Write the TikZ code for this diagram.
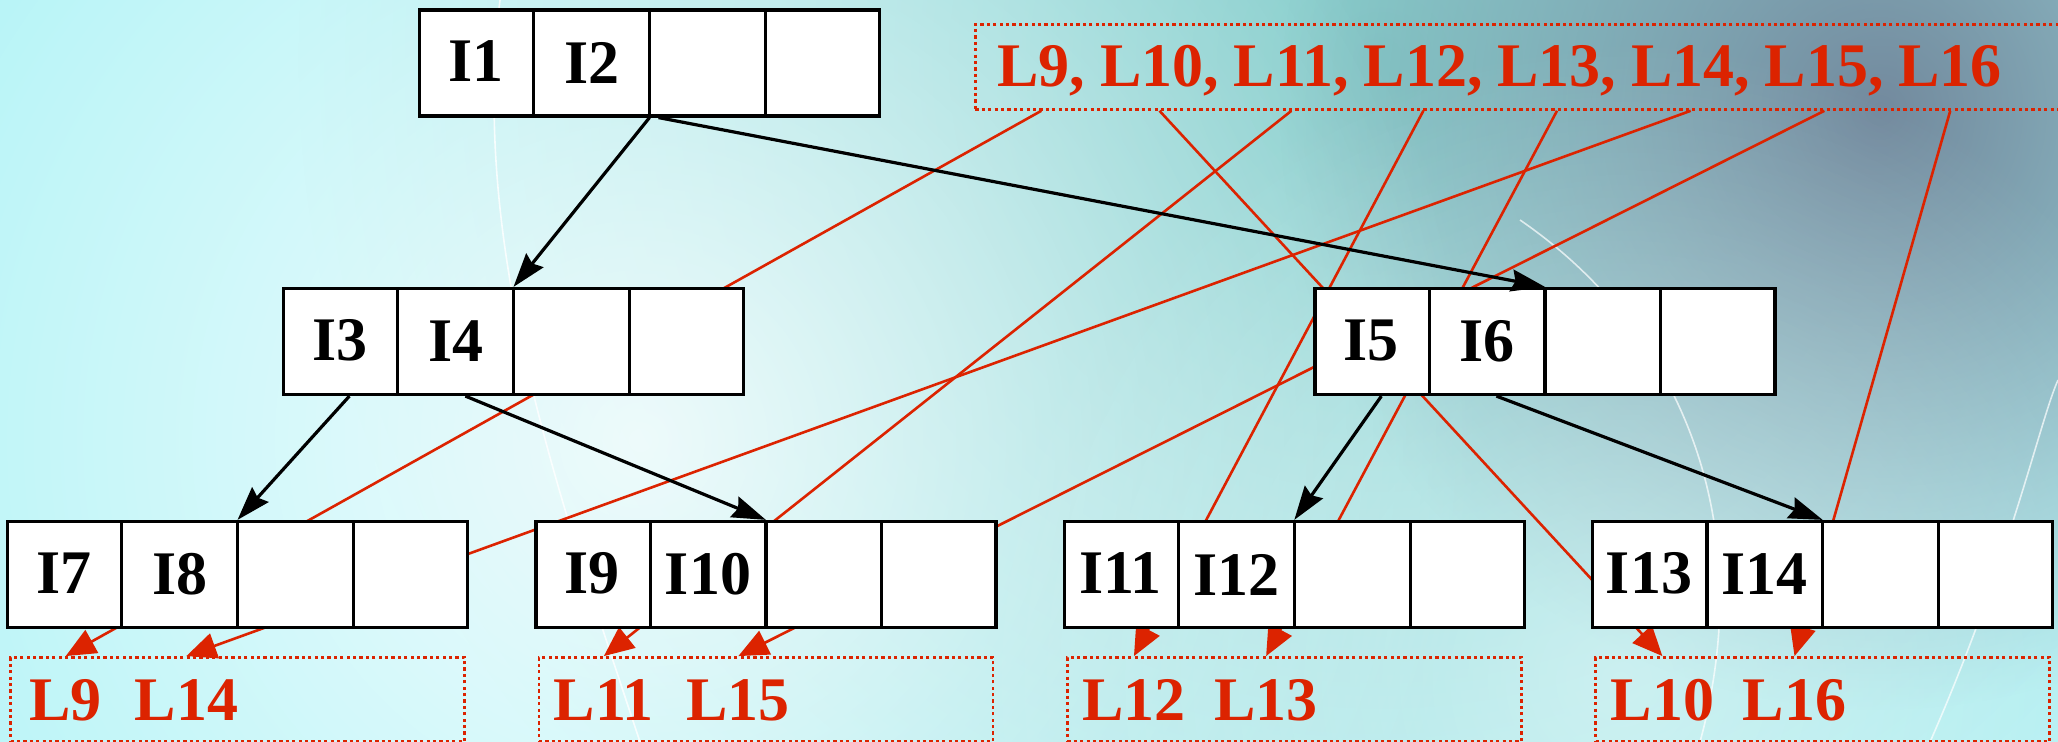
\documentclass[tikz,border=0pt]{standalone}
\usepackage{fontspec}
\setmainfont{Liberation Serif}
\usetikzlibrary{shapes.multipart,arrows.meta,positioning,fadings}
\definecolor{bpred}{HTML}{DC2300}
\definecolor{bgcyan}{HTML}{B4F4F7}
\definecolor{bgteal}{HTML}{86CCCA}
\definecolor{bgslate}{HTML}{738A9E}
\tikzfading[name=softspot, inner color=transparent!0, outer color=transparent!100]
\pgfdeclarelayer{bg}
\pgfdeclarelayer{wires}
\pgfsetlayers{bg,wires,main}
\tikzset{
  bnode/.style={rectangle split, rectangle split horizontal, rectangle split parts=4, rectangle split ignore empty parts=false, draw=black, line width=1.6pt, fill=white, inner sep=0pt, text width=56.3pt, text height=36pt, text depth=17pt, align=center, font=\fontsize{31}{31}\selectfont\bfseries},
  topbox/.style={draw=bpred, line width=1.4pt, dash pattern=on 1.6pt off 1.6pt, inner sep=0pt},
  leafbox/.style={draw=bpred, line width=1.4pt, dash pattern=on 1.6pt off 1.6pt, inner sep=0pt, minimum width=227pt, minimum height=42pt},
  toplbl/.style={text=bpred, inner sep=0pt, font=\fontsize{31}{31}\selectfont\bfseries},
  leaflbl/.style={text=bpred, inner sep=0pt, font=\fontsize{31}{31}\selectfont\bfseries},
  treeedge/.style={draw=black, line width=1.6pt, -{Stealth[length=17pt,width=11pt,inset=2pt]}},
  redwire/.style={draw=bpred, line width=1.3pt, -{Triangle[length=15pt,width=13pt]}},
}
\begin{document}
\begin{tikzpicture}[x=0.5pt, y=-0.5pt]
  \useasboundingbox (0,0) rectangle (2058,742);
  % background
  \begin{pgfonlayer}{bg}
    \fill[bgcyan] (0,0) rectangle (2058,742);
    \fill[bgteal, path fading=softspot] (1380,60) circle[radius=540pt];
    \fill[bgslate, path fading=softspot] (1880,110) circle[radius=300pt];
    \fill[white, opacity=0.8, path fading=softspot] (640,440) circle[radius=420pt];
    \fill[white, opacity=0.45, path fading=softspot] (1620,680) circle[radius=320pt];
    \draw[white, line width=0.8pt, opacity=0.8] (500,0) .. controls (470,250) and (560,500) .. (640,742);
    \draw[white, line width=0.8pt, opacity=0.7] (1700,742) .. controls (1760,520) and (1680,330) .. (1520,220);
    \draw[white, line width=0.8pt, opacity=0.7] (1930,742) .. controls (2010,560) and (2040,420) .. (2058,380);
  \end{pgfonlayer}

  % index nodes
  \node[bnode] (n12) at (649.5,63) {I1\nodepart{two}I2\nodepart{three}\nodepart{four}};
  \node[bnode] (n34) at (513.5,341.5) {I3\nodepart{two}I4\nodepart{three}\nodepart{four}};
  \node[bnode] (n56) at (1545,341.5) {I5\nodepart{two}I6\nodepart{three}\nodepart{four}};
  \node[bnode] (n78) at (237.5,574.5) {I7\nodepart{two}I8\nodepart{three}\nodepart{four}};
  \node[bnode,right=32.6pt of n78] (n910) {I9\nodepart{two}I10\nodepart{three}\nodepart{four}};
  \node[bnode,right=32.6pt of n910] (n1112) {I11\nodepart{two}I12\nodepart{three}\nodepart{four}};
  \node[bnode,right=32.6pt of n1112] (n1314) {I13\nodepart{two}I14\nodepart{three}\nodepart{four}};

  % leaf boxes
  \node[leafbox,below=13.5pt of n78] (p78) {};
  \node[leafbox,below=13.5pt of n910] (p910) {};
  \node[leafbox,below=13.5pt of n1112] (p1112) {};
  \node[leafbox,below=13.5pt of n1314] (p1314) {};
  \node[leaflbl,anchor=base west] (b9) at ([xshift=10pt,yshift=-10.5pt]p78.west) {L9};
  \node[leaflbl,base right=16pt of b9] (b14) {L14};
  \node[leaflbl,anchor=base west] (b11) at ([xshift=8pt,yshift=-10.5pt]p910.west) {L11};
  \node[leaflbl,base right=16pt of b11] (b15) {L15};
  \node[leaflbl,anchor=base west] (b12) at ([xshift=8pt,yshift=-10.5pt]p1112.west) {L12};
  \node[leaflbl,base right=14pt of b12] (b13) {L13};
  \node[leaflbl,anchor=base west] (b10) at ([xshift=8pt,yshift=-10.5pt]p1314.west) {L10};
  \node[leaflbl,base right=14pt of b10] (b16) {L16};

  % list of leaves
  \node[topbox,anchor=north west,minimum width=560pt,minimum height=42.5pt] (toplist) at (974,23) {};
  \node[toplbl,anchor=base west] (t9) at (997,87) {L9,};
  \node[toplbl,base right=7pt of t9] (t10) {L10,};
  \node[toplbl,base right=7pt of t10] (t11) {L11,};
  \node[toplbl,base right=7pt of t11] (t12) {L12,};
  \node[toplbl,base right=7pt of t12] (t13) {L13,};
  \node[toplbl,base right=7pt of t13] (t14) {L14,};
  \node[toplbl,base right=7pt of t14] (t15) {L15,};
  \node[toplbl,base right=7pt of t15] (t16) {L16};

  % tree pointers
  \draw[treeedge] (n12.two split south) -- (n34.two split north);
  \draw[treeedge] ([xshift=4.5pt]n12.two split south) -- (n56.two split north);
  \draw[treeedge] ([xshift=33.75pt]n34.south west) -- (n78.two split north);
  \draw[treeedge] ([xshift=91.75pt]n34.south west) -- (n910.two split north);
  \draw[treeedge] ([xshift=34pt]n56.south west) -- (n1112.two split north);
  \draw[treeedge] ([xshift=91.5pt]n56.south west) -- (n1314.two split north);

  % leaf pointers, behind the nodes
  \begin{pgfonlayer}{wires}
    \foreach \k/\p in {9/78,10/1314,11/910,12/1112,13/1112,14/78,15/910,16/1314}
      \draw[redwire] (t\k |- toplist.south) -- (b\k |- p\p.north);
  \end{pgfonlayer}
\end{tikzpicture}
\end{document}
